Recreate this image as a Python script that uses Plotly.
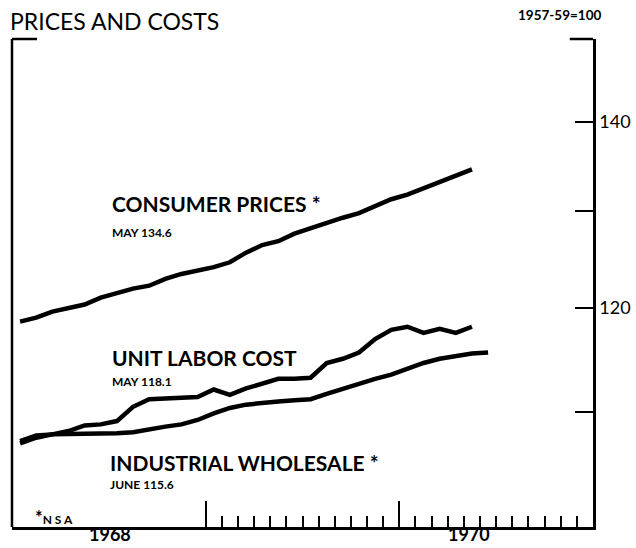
import plotly.graph_objects as go

# months since Jan 1968 (plotted at mid-month)
months_cp = list(range(29))      # Jan 1968 - May 1970
months_ulc = list(range(29))     # Jan 1968 - May 1970
months_iw = list(range(30))      # Jan 1968 - Jun 1970

consumer_prices = [118.6, 119.0, 119.6, 119.9, 120.3, 121.0, 121.5, 121.9, 122.2, 122.9, 123.4, 123.7,
                   124.1, 124.6, 125.6, 126.4, 126.8, 127.6, 128.2, 128.7, 129.3, 129.8, 130.5, 131.3,
                   131.8, 132.5, 133.2, 134.0, 134.6]
unit_labor_cost = [107.4, 107.9, 108.0, 108.3, 108.8, 108.9, 109.2, 110.5, 111.2, 111.3, 111.3, 111.4,
                   112.1, 111.6, 112.2, 112.7, 113.1, 113.1, 113.2, 114.6, 115.0, 115.6, 116.9, 117.8,
                   118.1, 117.5, 117.9, 117.5, 118.1]
industrial_wholesale = [107.2, 107.7, 108.0, 108.0, 108.0, 108.0, 108.1, 108.2, 108.5, 108.7, 108.9, 109.3,
                        109.9, 110.4, 110.7, 110.9, 111.0, 111.1, 111.2, 111.7, 112.2, 112.7, 113.1, 113.5,
                        114.1, 114.6, 115.0, 115.3, 115.5, 115.6]

year_labels = ["1968", "1970"]
year_label_pos = [6.1, 28.3]
y_tick_vals = [110, 120, 130, 140]
y_tick_text = ["", "120", "", "140"]
major_x_ticks = [12, 24]
minor_x_ticks = [m for m in range(13, 36) if m != 24]

FONT = "Lato"

fig = go.Figure()
for xs, ys in [(months_cp, consumer_prices), (months_ulc, unit_labor_cost), (months_iw, industrial_wholesale)]:
    fig.add_trace(go.Scatter(x=[m + 0.5 for m in xs], y=ys, mode="lines",
                             line=dict(color="black", width=4.5), showlegend=False))

fig.update_layout(
    width=636, height=548,
    margin=dict(l=12, r=43, t=39, b=21),
    plot_bgcolor="white", paper_bgcolor="white",
    font=dict(family=FONT, color="black"),
    xaxis=dict(range=[0, 36], showgrid=False, zeroline=False, showline=True, linecolor="black",
               linewidth=2.5, ticks="inside", tickvals=major_x_ticks, ticklen=26, tickwidth=1.5,
               tickcolor="black", showticklabels=False, automargin=False,
               minor=dict(tickvals=minor_x_ticks, ticks="inside", ticklen=11, tickwidth=1.5,
                          tickcolor="black")),
    yaxis=dict(type="log", range=[2, 2.17609], side="right", showgrid=False, zeroline=False,
               showline=True, linecolor="black", linewidth=2.5, ticks="inside", ticklen=18,
               tickwidth=2, tickcolor="black", tickvals=y_tick_vals, ticktext=y_tick_text,
               tickfont=dict(size=18, family=FONT), automargin=False),
)

# left frame line and top corner stubs
fig.add_shape(type="line", xref="paper", yref="paper", x0=0, x1=0, y0=0, y1=1,
              line=dict(color="black", width=2.5))
fig.add_shape(type="line", xref="paper", yref="paper", x0=0, x1=0.043, y0=1, y1=1,
              line=dict(color="black", width=2.5))
fig.add_shape(type="line", xref="paper", yref="paper", x0=0.960, x1=1, y0=1, y1=1,
              line=dict(color="black", width=2.5))

def note(text, x, y, size, bold=True, xanchor="left", yanchor="middle", xref="paper"):
    weight = "bold" if bold else "normal"
    fig.add_annotation(text=text, x=x, y=y, xref=xref, yref="paper", showarrow=False,
                       xanchor=xanchor, yanchor=yanchor,
                       font=dict(size=size, family=FONT, color="black", weight=weight))

note("PRICES AND COSTS", -0.007, 1.037, 23, bold=False)
note("1957-59=100", 0.868, 1.049, 13.5)
note("CONSUMER PRICES *", 0.1687, 0.662, 21)
note("MAY 134.6", 0.1687, 0.6045, 12)
note("UNIT LABOR COST", 0.1687, 0.348, 21)
note("MAY 118.1", 0.1687, 0.299, 12)
note("INDUSTRIAL WHOLESALE *", 0.165, 0.133, 21)
note("JUNE 115.6", 0.165, 0.088, 12)
note("<span style='font-size:18px'>*</span>N S A", 0.036, 0.0205, 12)
for lab, pos in zip(year_labels, year_label_pos):
    note(lab, pos, -0.041, 18, xanchor="center", yanchor="bottom", xref="x")

fig.write_html("out.html", config={"displayModeBar": False},
               post_script="document.body.style.margin='0';")
